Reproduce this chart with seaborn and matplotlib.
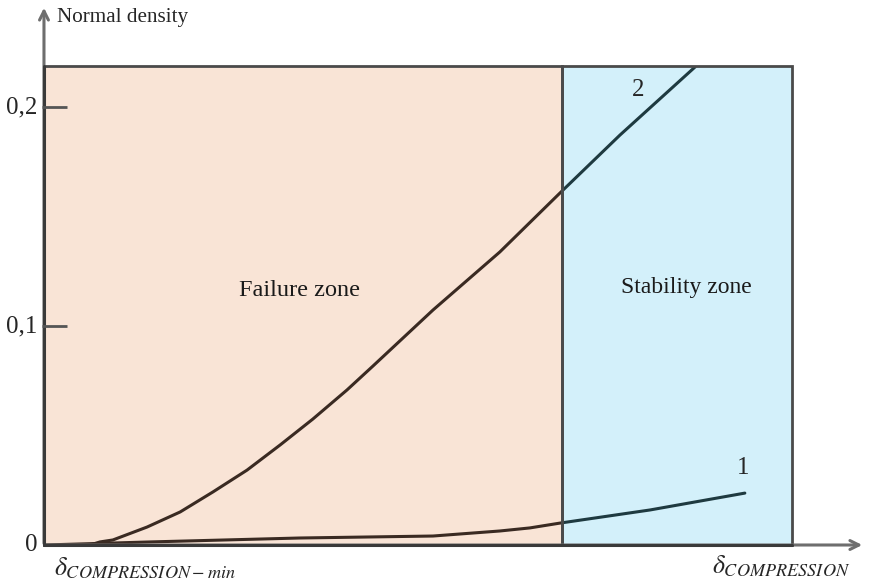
import matplotlib
matplotlib.use("Agg")
import matplotlib.pyplot as plt
import matplotlib.patches as mpatches
import seaborn as sns
import pandas as pd

# ---- data (x: relative compression, failure/stability boundary at 1.0) ----
curve2_x = [0.089, 0.108, 0.133, 0.199, 0.263, 0.326, 0.392, 0.456, 0.519, 0.585, 0.635,
            0.751, 0.880, 0.996, 1.112, 1.257]
curve2_y = [0.0, 0.0014, 0.0023, 0.0082, 0.0151, 0.0242, 0.0342, 0.0457, 0.0575, 0.0708, 0.0817,
            0.1073, 0.1338, 0.1607, 0.1872, 0.2183]
curve1_x = [0.0, 0.205, 0.494, 0.751, 0.880, 0.938, 0.996, 1.170, 1.353]
curve1_y = [0.0, 0.0014, 0.0032, 0.0041, 0.0064, 0.0078, 0.0100, 0.0160, 0.0237]
zone_names = ["Failure zone", "Stability zone"]
zone_start = [0.0, 1.0]
zone_end = [1.0, 1.444]
zone_top = 0.2187
ytick_vals = [0.0, 0.1, 0.2]
ytick_labels = ["0", "0,1", "0,2"]
curve_labels = ["1", "2"]

sns.set_theme(style="white")
plt.rcParams["font.family"] = ["Liberation Serif", "DejaVu Serif"]
plt.rcParams["mathtext.fontset"] = "stix"

fig = plt.figure(figsize=(8.69, 5.80), dpi=100)
ax = fig.add_axes([0, 0, 1, 1])
ax.set_xlim(-0.0849, 1.5927)
ax.set_ylim(-0.01598, 0.24886)

zone_colors = ["#F9E4D6", "#D3F0FA"]
line_colors = ["#3a2a22", "#1e3a40"]
edge = "#4a4a4a"

rects = []
for s, e, c in zip(zone_start, zone_end, zone_colors):
    r = mpatches.Rectangle((s, 0), e - s, zone_top, facecolor=c, edgecolor="none", zorder=1)
    ax.add_patch(r)
    rects.append(r)

df = pd.concat([
    pd.DataFrame({"x": curve1_x, "y": curve1_y, "curve": "1"}),
    pd.DataFrame({"x": curve2_x, "y": curve2_y, "curve": "2"}),
])

for rect, lc in zip(rects, line_colors):
    before = set(ax.lines)
    sns.lineplot(data=df, x="x", y="y", units="curve", estimator=None, sort=False,
                 color=lc, linewidth=2.2, ax=ax, legend=False, zorder=3)
    for ln in ax.lines:
        if ln not in before:
            ln.set_clip_path(rect)
            ln.set_solid_joinstyle("round")
            ln.set_solid_capstyle("round")

# zone borders
for s, e in zip(zone_start, zone_end):
    ax.add_patch(mpatches.Rectangle((s, 0), e - s, zone_top, facecolor="none",
                                    edgecolor=edge, linewidth=2, zorder=4))

# axes arrows
axis_col = "#6e6e6e"
ax.annotate("", xy=(0, 0.2466), xytext=(0, -0.0005),
            arrowprops=dict(arrowstyle="->", color=axis_col, lw=2.2, mutation_scale=16), zorder=5)
ax.annotate("", xy=(1.585, 0), xytext=(-0.002, 0),
            arrowprops=dict(arrowstyle="->", color=axis_col, lw=2.2, mutation_scale=16), zorder=5)
ax.plot([0, 1.444], [0, 0], color="#3a3a3a", lw=2.2, zorder=5)
ax.plot([0, 0], [0, zone_top], color="#3a3a3a", lw=2.2, zorder=5)

# y ticks: short marks pointing inwards plus labels
for sp in ax.spines.values():
    sp.set_visible(False)
ax.set_xticks([])
ax.set_yticks([])
ax.set_xlabel("")
ax.set_ylabel("")
ax.hlines([v for v in ytick_vals if v > 0], -0.004, 0.044, color="#555555", lw=2, zorder=5)
for v, lab in zip(ytick_vals, ytick_labels):
    ax.text(-0.012, v, lab, fontsize=18, ha="right", va="center")

ax.text(0.025, 0.241, "Normal density", fontsize=15.2, ha="left", va="center")
ax.text(0.494, 0.1164, zone_names[0], fontsize=17.5, ha="center", va="center", color="#1a1a1a")
ax.text(1.241, 0.1174, zone_names[1], fontsize=17, ha="center", va="center", color="#1a1a1a")
ax.text(1.349, 0.0352, curve_labels[0], fontsize=18, ha="center", va="center")
ax.text(1.147, 0.2078, curve_labels[1], fontsize=18, ha="center", va="center")

ax.text(0.019, -0.0105, r"$\delta_{COMPRESSION-min}$", fontsize=18.7, ha="left", va="center")
ax.text(1.289, -0.0095, r"$\delta_{COMPRESSION}$", fontsize=18.7, ha="left", va="center")

fig.savefig("out.png", dpi=100)
